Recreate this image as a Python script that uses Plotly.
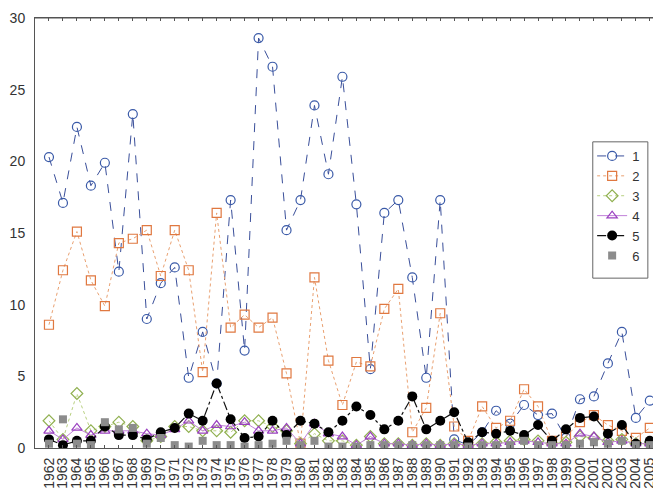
import plotly.graph_objects as go

years = list(range(1962, 2006))

s1 = [20.3, 17.1, 22.4, 18.3, 19.9, 12.3, 23.3, 9.0, 11.5, 12.6, 4.9, 8.1, 4.5, 17.3, 6.8,
      28.6, 26.6, 15.2, 17.3, 23.9, 19.1, 25.9, 17.0, 5.5, 16.4, 17.3, 11.9, 4.9, 17.3, 0.6,
      0.2, 1.1, 2.6, 1.7, 3.0, 2.3, 2.4, 0.7, 3.4, 3.6, 5.9, 8.1, 2.1, 3.3]
s2 = [8.6, 12.4, 15.1, 11.7, 9.9, 14.3, 14.6, 15.2, 12.0, 15.2, 12.4, 5.3, 16.4, 8.4, 9.3,
      8.4, 9.1, 5.2, 0.3, 11.9, 6.1, 3.0, 6.0, 5.7, 9.7, 11.1, 1.1, 2.8, 9.4, 1.5,
      0.5, 2.9, 1.4, 1.9, 4.1, 2.9, 0.5, 0.8, 1.8, 2.3, 1.6, 1.2, 0.7, 1.4]
s3 = [1.9, 0.6, 3.8, 1.2, 1.5, 1.8, 1.5, 0.5, 0.8, 1.5, 1.5, 1.2, 1.2, 1.1, 1.9,
      1.9, 1.5, 1.2, 0.3, 1.0, 0.5, 0.5, 0.2, 0.8, 0.3, 0.3, 0.2, 0.3, 0.2, 0.3,
      0.2, 0.3, 0.4, 0.5, 0.6, 0.5, 0.3, 0.4, 0.8, 0.7, 0.5, 0.6, 0.3, 0.3]
s4 = [1.2, 0.6, 1.4, 0.9, 1.2, 1.2, 1.2, 1.0, 0.9, 1.3, 1.9, 1.2, 1.6, 1.5, 1.8,
      1.2, 1.2, 1.4, 0.3, 1.7, 1.0, 0.8, 0.2, 0.8, 0.3, 0.3, 0.2, 0.3, 0.2, 0.3,
      0.2, 0.3, 0.3, 0.4, 0.5, 0.4, 0.3, 0.3, 1.0, 0.8, 0.4, 0.5, 0.3, 0.3]
s5 = [0.6, 0.2, 0.5, 0.5, 1.5, 0.9, 0.9, 0.6, 1.1, 1.4, 2.4, 1.9, 4.5, 2.0, 0.7,
      0.8, 1.9, 0.9, 1.9, 1.7, 1.1, 1.9, 2.9, 2.3, 1.3, 1.9, 3.6, 1.3, 1.9, 2.5,
      0.4, 1.1, 1.0, 1.2, 0.9, 1.6, 0.5, 1.3, 2.1, 2.2, 1.0, 1.6, 0.3, 0.5]
s6 = [0.3, 2.0, 0.3, 0.2, 1.8, 1.3, 1.4, 0.3, 0.7, 0.2, 0.1, 0.5, 0.2, 0.2, 0.1,
      0.2, 0.3, 0.5, 0.2, 0.5, 0.1, 0.1, 0.1, 0.2, 0.2, 0.2, 0.2, 0.2, 0.2, 0.2,
      0.1, 0.2, 0.2, 0.2, 0.5, 0.2, 0.2, 0.2, 0.3, 0.4, 0.3, 0.5, 0.2, 0.2]

names = ["1", "2", "3", "4", "5", "6"]
y_ticks = [0, 5, 10, 15, 20, 25, 30]

fig = go.Figure()
fig.add_trace(go.Scatter(x=years, y=s1, name=names[0], mode="lines+markers",
                         line=dict(color="#3a4f9a", width=1, dash="dash"),
                         marker=dict(symbol="circle-open", size=9, color="#3a5aa8", line=dict(width=1.2))))
fig.add_trace(go.Scatter(x=years, y=s2, name=names[1], mode="lines+markers",
                         line=dict(color="#e9a070", width=1, dash="dot"),
                         marker=dict(symbol="square-open", size=9, color="#e07840", line=dict(width=1.2))))
fig.add_trace(go.Scatter(x=years, y=s3, name=names[2], mode="lines+markers",
                         line=dict(color="#b8d080", width=1, dash="dot"),
                         marker=dict(symbol="diamond-open", size=9, color="#90b050", line=dict(width=1.2))))
fig.add_trace(go.Scatter(x=years, y=s4, name=names[3], mode="lines+markers",
                         line=dict(color="#c080d8", width=1),
                         marker=dict(symbol="triangle-up-open", size=9, color="#9a40c0", line=dict(width=1.2))))
fig.add_trace(go.Scatter(x=years, y=s5, name=names[4], mode="lines+markers",
                         line=dict(color="#111111", width=1.2, dash="dashdot"),
                         marker=dict(symbol="circle", size=10, color="#000000")))
fig.add_trace(go.Scatter(x=years, y=s6, name=names[5], mode="markers",
                         marker=dict(symbol="square", size=8, color="#8c8c8c")))

fig.add_shape(type="rect", xref="paper", yref="paper", x0=0.891, x1=0.979, y0=0.395, y1=0.712,
              line=dict(color="#666666", width=1), fillcolor="rgba(0,0,0,0)")

fig.update_layout(
    width=653, height=482,
    margin=dict(l=27, r=0, t=10, b=42),
    paper_bgcolor="white", plot_bgcolor="white",
    font=dict(family="Liberation Sans, Arial, sans-serif", color="#222222"),
    showlegend=True,
    legend=dict(x=0.89, y=0.714, xanchor="left", yanchor="top", bgcolor="rgba(0,0,0,0)",
                borderwidth=0, font=dict(size=13, color="#333333"), itemwidth=30,
                tracegroupgap=0),
)
fig.update_xaxes(range=[1961, 2005.8], tickmode="array", tickvals=years,
                 ticktext=[str(y) for y in years], tickangle=-90, automargin=False,
                 ticklabeloverflow="allow",
                 tickfont=dict(size=14, color="#333333"), ticklabelstandoff=3,
                 showgrid=False, zeroline=False, showline=True, linecolor="#555555", linewidth=1,
                 mirror="ticks", ticks="inside", ticklen=3, tickcolor="#555555")
fig.update_yaxes(range=[0, 30], tickvals=y_ticks, tickfont=dict(size=14, color="#333333"),
                 automargin=False, ticklabelstandoff=6,
                 showgrid=False, zeroline=False, showline=True, linecolor="#555555", linewidth=1,
                 ticks="", mirror=False)
fig.add_shape(type="line", xref="paper", yref="paper", x0=0, x1=1, y0=1, y1=1,
              line=dict(color="#555555", width=1))

fig.write_html("out.html")
